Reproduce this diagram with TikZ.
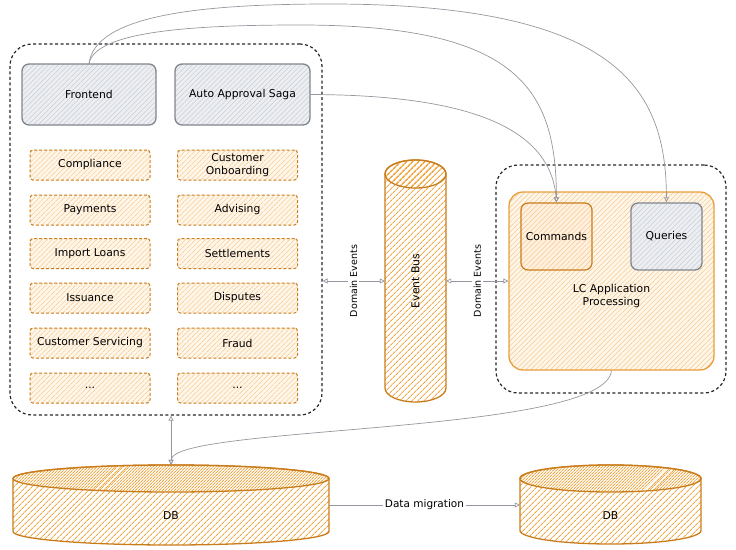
\documentclass[tikz,border=0pt]{standalone}
\usepackage{fontspec}
\setmainfont{DejaVu Sans}
\usetikzlibrary{patterns.meta,arrows.meta}
\definecolor{orangeline}{RGB}{201,124,28}
\definecolor{orangehatch}{RGB}{240,168,68}
\definecolor{orangelight}{RGB}{246,200,140}
\definecolor{orangefill}{RGB}{255,246,234}
\definecolor{lcline}{RGB}{232,158,58}
\definecolor{grayline}{RGB}{128,134,142}
\definecolor{grayhatch}{RGB}{200,204,212}
\definecolor{grayfill}{RGB}{236,238,242}
\definecolor{arrowgray}{RGB}{150,150,160}

\begin{document}
\begin{tikzpicture}[x=1pt,y=1pt,font=\fontsize{10.8}{13}\selectfont,
  zone/.style={draw=black!85,line width=1.2pt,dash pattern=on 3pt off 2.5pt,rounded corners=22pt},
  appbox/.style={draw=grayline,line width=1.3pt,rounded corners=7pt,preaction={fill=grayfill},
    pattern={Lines[angle=45,distance=3.5pt,line width=0.5pt]},pattern color=grayhatch},
  svcbox/.style={draw=orangeline,line width=1pt,dash pattern=on 3pt off 2pt,rounded corners=3pt,
    minimum width=120pt,minimum height=30pt,align=center,preaction={fill=orangefill},
    pattern={Lines[angle=45,distance=3.5pt,line width=0.5pt]},pattern color=orangelight},
  drum/.style={draw=orangeline,line width=1.3pt,line join=round,
    pattern={Lines[angle=45,distance=4pt,line width=1pt]},pattern color=orangehatch},
  link/.style={draw=arrowgray,line width=0.7pt,-{Triangle[open,length=5pt,width=5pt]}},
  twoway/.style={draw=arrowgray,line width=0.7pt,{Triangle[open,length=5pt,width=5pt]}-{Triangle[open,length=5pt,width=5pt]}},
  tag/.style={fill=white,inner sep=2pt,text=black,font=\fontsize{9.5}{11}\selectfont}]
\useasboundingbox (0,0) rectangle (736,-549);

% left side: modules
\node[zone,minimum width=312pt,minimum height=371pt] (leftzone) at (166,-229.5) {};
\node[appbox,minimum width=134pt,minimum height=61pt] (front) at (89,-94.5) {Frontend};
\node[appbox,minimum width=135pt,minimum height=61pt] (saga) at (242.5,-94.5) {Auto Approval Saga};

\node[svcbox] (compl) at (90,-165) {Compliance};
\node[svcbox] (pay) at (90,-210) {Payments};
\node[svcbox] (loans) at (90,-253.5) {Import Loans};
\node[svcbox] (issue) at (90,-298) {Issuance};
\node[svcbox] (servic) at (90,-343) {Customer Servicing};
\node[svcbox] (moreL) at (90,-388) {...};
\node[svcbox] (onboard) at (237.5,-165) {Customer\\Onboarding};
\node[svcbox] (advis) at (237.5,-210) {Advising};
\node[svcbox] (settle) at (237.5,-253.5) {Settlements};
\node[svcbox] (disput) at (237.5,-298) {Disputes};
\node[svcbox] (fraud) at (237.5,-343) {Fraud};
\node[svcbox] (moreR) at (237.5,-388) {...};

% event bus (drum drawn by hand)
\draw[drum] (385,-174) -- (385,-388) arc[start angle=180,end angle=360,x radius=30.5,y radius=14]
  -- (446,-174) arc[start angle=0,end angle=180,x radius=30.5,y radius=14] -- cycle;
\draw[drum] (415.5,-174) ellipse[x radius=30.5,y radius=14];
\node[minimum width=61pt,minimum height=242pt] (bus) at (415.5,-281) {\rotatebox{90}{Event Bus}};

% right side: LC application
\node[zone,minimum width=230pt,minimum height=228pt] (rightzone) at (611,-279) {};
\node[draw=lcline,line width=1.3pt,rounded corners=14pt,minimum width=205pt,minimum height=178pt,
  preaction={fill=orangefill},pattern={Lines[angle=45,distance=3.5pt,line width=0.5pt]},pattern color=orangelight,
  label={[align=center,yshift=-15pt]center:LC Application\\Processing}] (lc) at (611.5,-281) {};
\node[draw=orangeline,line width=1.2pt,rounded corners=7pt,minimum width=71pt,minimum height=67pt,
  preaction={fill=orange!12},pattern={Lines[angle=45,distance=3.5pt,line width=0.5pt]},pattern color=orangelight] (cmd) at (556.5,-236.5) {Commands};
\node[appbox,minimum width=71pt,minimum height=67pt] (query) at (666.5,-236.5) {Queries};

% databases
\draw[drum] (13,-478.5) -- (13,-531.5) arc[start angle=180,end angle=360,x radius=158,y radius=13.5]
  -- (329,-478.5) arc[start angle=0,end angle=180,x radius=158,y radius=13.5] -- cycle;
\draw[drum] (171,-478.5) ellipse[x radius=158,y radius=13.5];
\node[minimum width=316pt,minimum height=80pt,label={[yshift=-11pt]center:DB}] (dbmain) at (171,-505) {};
\draw[drum] (520,-478.5) -- (520,-530.5) arc[start angle=180,end angle=360,x radius=90.5,y radius=13.5]
  -- (701,-478.5) arc[start angle=0,end angle=180,x radius=90.5,y radius=13.5] -- cycle;
\draw[drum] (610.5,-478.5) ellipse[x radius=90.5,y radius=13.5];
\node[minimum width=181pt,minimum height=80pt,label={[yshift=-11pt]center:DB}] (dbcopy) at (610.5,-505) {};

% connectors
\draw[link] (front.north) .. controls (95,-15) and (200,-4) .. (330,-4)
  .. controls (620,-4) and (666,-90) .. (query.north);
\draw[link] (front.north) .. controls (95,-30) and (200,-25) .. (300,-25)
  .. controls (520,-25) and (556,-90) .. (cmd.north);
\draw[link] (saga.east) .. controls (450,-95) and (550,-120) .. (cmd.north);
\draw[twoway] (leftzone.east |- bus.west) -- node[tag,rotate=90] {Domain Events} (bus.west);
\draw[twoway] (bus.east) -- node[tag,rotate=90] {Domain Events} (bus.east -| lc.west);
\draw[twoway] (dbmain.north) -- (dbmain.north |- leftzone.south);
\draw[link] (lc.south) .. controls (605,-435) and (172,-425) .. (dbmain.north);
\draw[link] (dbmain.east) -- node[tag,font=\fontsize{10.5}{12}\selectfont] {Data migration} (dbcopy.west);
\end{tikzpicture}
\end{document}
